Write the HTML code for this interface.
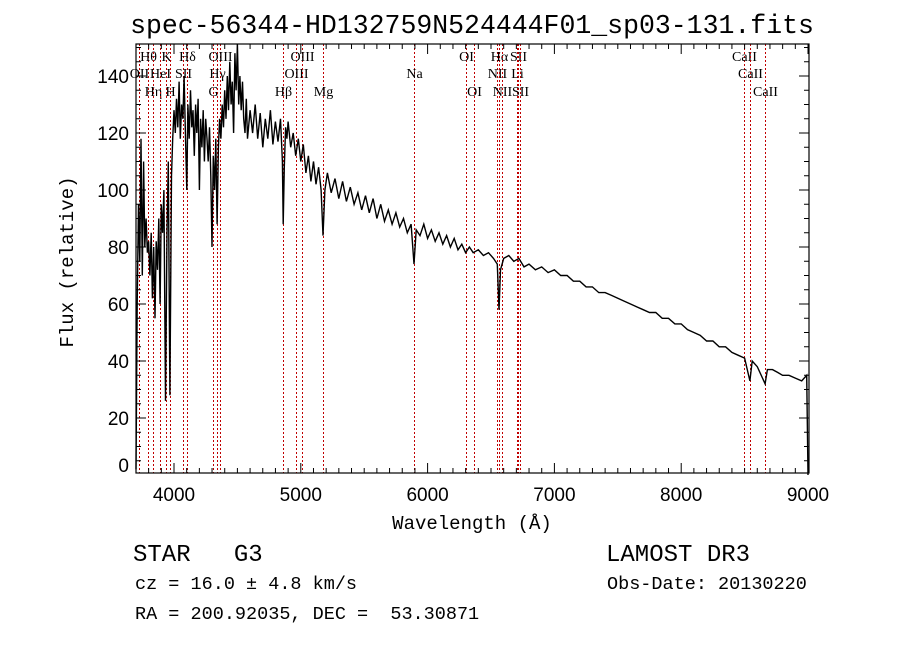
<!DOCTYPE html>
<html><head><meta charset="utf-8"><style>
body{margin:0;background:#fff;}
svg{display:block;}
text{white-space:pre;}
.mono{font-family:"Liberation Mono",monospace;fill:#000;}
.tick{font-family:"Liberation Sans",sans-serif;font-size:19px;fill:#000;}
.ll{font-family:"Liberation Serif",serif;font-size:14px;fill:#000;}
</style></head><body>
<svg id="chart" width="900" height="649" viewBox="0 0 900 649" xmlns="http://www.w3.org/2000/svg" xml:space="preserve">
<rect x="0" y="0" width="900" height="649" fill="#fff"/>
<text class="mono" x="472" y="33" font-size="26.5" text-anchor="middle">spec-56344-HD132759N524444F01_sp03-131.fits</text>
<g id="lines"></g>
<g id="spec"></g>
<g id="axes"></g>
<text class="mono" x="472" y="529" font-size="19" text-anchor="middle">Wavelength (Å)</text>
<text class="mono" transform="translate(73,262) rotate(-90)" font-size="19" text-anchor="middle">Flux (relative)</text>
<text class="mono" x="133" y="561" font-size="24">STAR   G3</text>
<text class="mono" x="135" y="589" font-size="18.5">cz = 16.0 ± 4.8 km/s</text>
<text class="mono" x="135" y="619" font-size="18.5">RA = 200.92035, DEC =  53.30871</text>
<text class="mono" x="606" y="561" font-size="24">LAMOST DR3</text>
<text class="mono" x="607" y="589" font-size="18.5">Obs-Date: 20130220</text>
</svg>
<script>
const waves=[3700,3710,3720,3730,3740,3750,3760,3770,3780,3790,3800,3810,3820,3830,3840,3850,3860,3870,3880,3890,3900,3910,3920,3933,3945,3955,3968,3980,3990,4000,4010,4020,4030,4040,4050,4060,4070,4080,4090,4101,4110,4120,4130,4140,4150,4160,4170,4180,4190,4200,4210,4220,4230,4240,4250,4260,4270,4280,4290,4300,4310,4320,4330,4340,4350,4360,4370,4380,4390,4400,4410,4420,4430,4440,4450,4460,4470,4480,4490,4500,4510,4520,4530,4540,4550,4560,4570,4580,4600,4620,4640,4660,4680,4700,4720,4740,4760,4780,4800,4820,4840,4855,4861,4870,4880,4890,4900,4920,4940,4960,4980,5000,5020,5040,5060,5080,5100,5120,5140,5160,5175,5190,5210,5240,5270,5300,5330,5360,5390,5420,5450,5480,5510,5540,5570,5600,5630,5660,5690,5720,5750,5780,5810,5840,5870,5893,5910,5940,5970,6000,6030,6060,6090,6120,6150,6180,6210,6240,6270,6300,6330,6360,6400,6440,6480,6520,6550,6563,6575,6600,6640,6680,6720,6760,6800,6850,6900,6950,7000,7050,7100,7150,7200,7250,7300,7350,7400,7450,7500,7550,7600,7650,7700,7750,7800,7850,7900,7950,8000,8050,8100,8150,8200,8250,8300,8350,8400,8450,8500,8542,8560,8600,8662,8680,8720,8760,8800,8850,8900,8950,8990,9000];
const flux=[2,60,95,75,118,70,110,80,90,78,82,70,85,62,80,55,82,72,90,60,95,85,100,26,85,110,28,105,118,128,120,132,122,138,118,130,125,140,120,100,130,118,135,122,128,112,130,120,132,100,125,115,128,110,125,118,110,122,105,80,112,100,118,88,115,125,118,130,122,135,125,140,128,145,130,138,120,148,135,152,130,140,128,138,125,120,132,118,128,120,130,118,127,115,125,118,128,116,124,117,125,110,88,108,122,118,124,115,120,112,118,110,116,106,112,103,110,102,108,100,84,100,106,99,104,97,103,96,101,95,99,93,98,92,97,90,95,89,93,88,92,87,90,85,88,74,86,84,88,83,86,82,85,81,84,80,83,79,81,78,80,78,79,77,78,76,74,58,72,76,77,75,76,73,74,72,73,71,72,70,70,68,68,66,66,64,64,63,62,61,60,59,58,57,57,55,55,53,53,51,50,49,47,47,45,45,43,42,41,33,40,38,32,37,37,36,35,35,34,33,35,0];
const lineWaves=[3727,3798,3835,3889,3934,3968,4072,4102,4304,4340,4363,4861,4959,5007,5175,5893,6300,6363,6548,6563,6583,6707,6716,6731,8498,8542,8662];
const lineNames=["OII","Hθ","Hη","HeI","K","H","SII","Hδ","G","Hγ","OIII","Hβ","OIII","OIII","Mg","Na","OI","OI","NII","Hα","NII","Li","SII","SII","CaII","CaII","CaII"];
const lineRows=[1,0,2,1,0,2,1,0,2,1,0,2,1,0,2,1,0,2,1,0,2,1,0,2,0,1,2];
const xTicks=[4000,5000,6000,7000,8000,9000];
const yTicks=[0,20,40,60,80,100,120,140];

const L=136,R=809,T=44,B=473;
const xs=w=>174+(w-4000)*0.1268;
const ys=v=>475-v*2.85;
const NS="http://www.w3.org/2000/svg";
function mk(tag,attrs,parent){const e=document.createElementNS(NS,tag);for(const k in attrs)e.setAttribute(k,attrs[k]);parent.appendChild(e);return e;}
const gl=document.getElementById('lines');
const rowY=[61,78,96];
lineWaves.forEach((w,i)=>{
  const x=Math.round(xs(w))+0.5;
  const ln=mk('line',{x1:x,x2:x,y1:T,y2:B,stroke:'#c00000','stroke-width':1,'stroke-dasharray':'2,2'},gl);
  
  
  const t=mk('text',{x:x,y:rowY[lineRows[i]],'text-anchor':'middle',class:'ll'},gl);
  t.textContent=lineNames[i];
  
  
});
const gs=document.getElementById('spec');
let d='';
waves.forEach((w,i)=>{d+=(i?'L':'M')+xs(w).toFixed(1)+' '+Math.max(T,ys(flux[i])).toFixed(1);});
const p=mk('path',{d:d,fill:'none',stroke:'#000','stroke-width':1.4},gs);


const ga=document.getElementById('axes');
const box=mk('rect',{x:L,y:T,width:R-L,height:B-T,fill:'none',stroke:'#000','stroke-width':1.2},ga);


for(let w=3800;w<=9000;w+=100){
  const x=xs(w);const major=w%1000===0;const len=major?10:5;
  mk('line',{x1:x,x2:x,y1:B,y2:B-len,stroke:'#000'},ga);
  mk('line',{x1:x,x2:x,y1:T,y2:T+len,stroke:'#000'},ga);
}
xTicks.forEach(w=>{
  const t=mk('text',{x:xs(w),y:501,'text-anchor':'middle',class:'tick'},ga);
  t.textContent=w;
  
  
});
for(let v=5;v<=150;v+=5){
  const y=ys(v);const major=v%20===0;const len=major?10:5;
  mk('line',{x1:L,x2:L+len,y1:y,y2:y,stroke:'#000'},ga);
  mk('line',{x1:R,x2:R-len,y1:y,y2:y,stroke:'#000'},ga);
}
yTicks.forEach(v=>{
  const t=mk('text',{x:129,y:Math.min(ys(v)+7,472),'text-anchor':'end',class:'tick'},ga);
  t.textContent=v;
  
  
});
</script>
</body></html>
